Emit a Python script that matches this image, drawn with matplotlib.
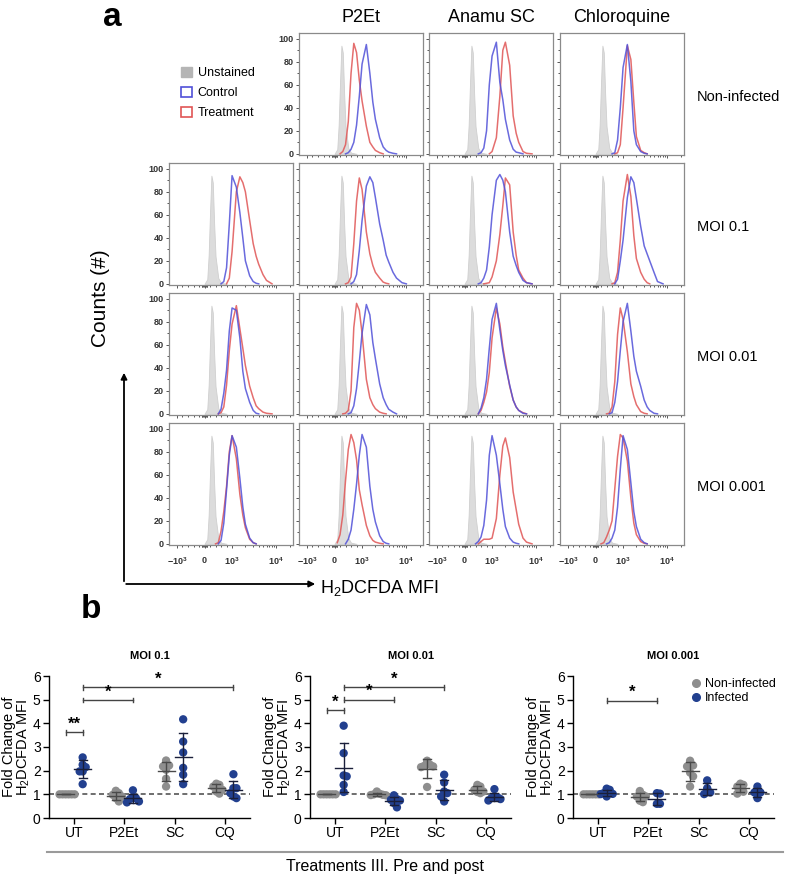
import numpy as np
import matplotlib
matplotlib.use('Agg')
import matplotlib.pyplot as plt
from matplotlib.patches import Patch, FancyArrowPatch
from matplotlib.lines import Line2D

plt.rcParams['font.family'] = ['Liberation Sans', 'DejaVu Sans']
plt.rcParams['mathtext.fontset'] = 'custom'
plt.rcParams['mathtext.rm'] = 'Liberation Sans'
plt.rcParams['mathtext.bf'] = 'Liberation Sans:bold'
plt.rcParams['mathtext.it'] = 'Liberation Sans:italic'

W, H = 788, 876

# ---------------- part a : H2DCFDA histograms ----------------
treatments = ['P2Et', 'Anamu SC', 'Chloroquine']
conditions = ['Non-infected', 'MOI 0.1', 'MOI 0.01', 'MOI 0.001']

# fluorescence grid (MFI) on which curve heights were read
MFI = [100, 200, 300, 400, 500, 600, 700, 800, 900, 1000, 1250, 1500,
       1750, 2000, 2500, 3000, 3500, 4000, 5000, 6000, 8000, 10000]
UNST_MFI = [0, 100, 150, 200, 250, 300, 350, 400, 500, 600, 800]
unstained = [0, 4, 25, 62, 94, 88, 52, 24, 5, 1, 0]

# Non-infected
ctl_ni_p2et = [0, 0, 0, 0, 1, 4, 10, 25, 50, 78, 95, 70, 45, 30, 14, 6, 3, 1.5, 0.5, 0, 0, 0]
trt_ni_p2et = [0, 0, 2, 8, 28, 70, 96, 88, 64, 46, 24, 10, 6, 3, 1, 0, 0, 0, 0, 0, 0, 0]
ctl_ni_sc = [0, 0, 0, 0, 0, 1, 5, 20, 60, 85, 97, 62, 47, 30, 12, 4, 1.5, 1, 0, 0, 0, 0]
trt_ni_sc = [0, 0, 0, 0, 0, 0, 0, 0, 0, 2, 14, 50, 90, 97, 77, 33, 18, 10, 2, 0.5, 0, 0]
ctl_ni_cq = [0, 0, 0, 0, 0, 0, 1, 12, 40, 75, 95, 63, 20, 8, 2, 0.5, 0, 0, 0, 0, 0, 0]
trt_ni_cq = [0, 0, 0, 0, 0, 0, 0, 1, 8, 40, 94, 82, 45, 15, 3, 1, 0, 0, 0, 0, 0, 0]
# MOI 0.1
ctl_m1_ut = [0, 0, 0, 0, 0, 0, 2, 14, 52, 94, 84, 62, 40, 20, 7, 2, 0.5, 0, 0, 0, 0, 0]
trt_m1_ut = [0, 0, 0, 0, 0, 0, 0, 0, 5, 28, 80, 93, 88, 80, 55, 35, 24, 17, 8, 3, 0, 0]
ctl_m1_p2et = [0, 0, 0, 0, 0, 0, 2, 8, 29, 55, 85, 93, 88, 75, 52, 38, 25, 19, 10, 5, 1, 0]
trt_m1_p2et = [0, 0, 0, 0, 1, 6, 35, 72, 92, 82, 45, 26, 16, 10, 5, 1.5, 0.5, 0, 0, 0, 0, 0]
ctl_m1_sc = [0, 0, 0, 0, 0, 1, 5, 12, 32, 60, 90, 95, 90, 80, 45, 24, 16, 10, 3, 1, 0, 0]
trt_m1_sc = [0, 0, 0, 0, 0, 0, 0, 0.5, 1, 6, 20, 43, 68, 92, 86, 45, 25, 12, 5, 1, 0, 0]
ctl_m1_cq = [0, 0, 0, 0, 0, 0, 0, 4, 20, 38, 75, 93, 88, 74, 50, 33, 26, 20, 10, 2, 0, 0]
trt_m1_cq = [0, 0, 0, 0, 0, 0, 1, 10, 38, 72, 95, 76, 42, 22, 10, 4, 1, 0, 0, 0, 0, 0]
# MOI 0.01
ctl_m01_ut = [0, 0, 0, 0, 0, 4, 18, 38, 72, 92, 90, 66, 37, 22, 10, 3, 0.5, 0, 0, 0, 0, 0]
trt_m01_ut = [0, 0, 0, 0, 0, 1, 6, 25, 55, 78, 94, 74, 57, 42, 24, 14, 7, 4.5, 1.5, 0.5, 0, 0]
ctl_m01_p2et = [0, 0, 0, 0, 0, 1, 7, 22, 45, 70, 95, 86, 62, 48, 26, 14, 8, 4, 1.5, 0, 0, 0]
trt_m01_p2et = [0, 0, 0, 0.5, 3, 20, 75, 96, 90, 70, 30, 14, 8, 4.5, 1.5, 0.5, 0, 0, 0, 0, 0, 0]
ctl_m01_sc = [0, 0, 0, 0, 0, 5, 14, 30, 57, 82, 96, 73, 55, 42, 25, 12, 6, 3, 0.5, 0, 0, 0]
trt_m01_sc = [0, 0, 0, 0, 0, 3, 10, 19, 36, 66, 92, 78, 58, 45, 24, 12, 6, 3, 1, 0, 0, 0]
ctl_m01_cq = [0, 0, 0, 0, 0, 1, 10, 28, 55, 80, 96, 72, 50, 37, 24, 12, 6, 3, 0.5, 0, 0, 0]
trt_m01_cq = [0, 0, 0, 0, 0.5, 6, 28, 69, 92, 82, 54, 26, 15, 8, 2, 0.5, 0, 0, 0, 0, 0, 0]
# MOI 0.001
ctl_m001_ut = [0, 0, 0, 0, 0, 3, 18, 47, 77, 94, 84, 57, 32, 17, 5, 1, 0, 0, 0, 0, 0, 0]
trt_m001_ut = [0, 0, 0, 0, 1, 11, 28, 50, 80, 94, 74, 43, 25, 14, 4, 1, 0, 0, 0, 0, 0, 0]
ctl_m001_p2et = [0, 0, 0, 0, 4, 12, 30, 52, 77, 95, 84, 50, 30, 19, 7, 2, 0.5, 0, 0, 0, 0, 0]
trt_m001_p2et = [1, 8, 25, 55, 82, 95, 88, 73, 47, 34, 16, 7, 3, 1.5, 0.5, 0, 0, 0, 0, 0, 0, 0]
ctl_m001_sc = [0, 0, 0, 0, 2, 6, 16, 38, 77, 94, 77, 52, 30, 15, 5, 1.5, 0.5, 0, 0, 0, 0, 0]
trt_m001_sc = [0, 0, 0, 0, 0, 2, 4, 4, 4, 5, 22, 60, 85, 92, 75, 45, 30, 17, 5, 1.5, 0, 0]
ctl_m001_cq = [0, 0, 0, 0, 1, 5, 12, 32, 65, 94, 82, 53, 28, 15, 4, 1, 0, 0, 0, 0, 0, 0]
trt_m001_cq = [0, 0, 1, 6, 12, 20, 48, 76, 95, 92, 72, 40, 18, 8, 2, 0.5, 0, 0, 0, 0, 0, 0]

# (row, column) -> (control, treatment); column 0 = untreated
panels = {
    (0, 1): (ctl_ni_p2et, trt_ni_p2et), (0, 2): (ctl_ni_sc, trt_ni_sc), (0, 3): (ctl_ni_cq, trt_ni_cq),
    (1, 0): (ctl_m1_ut, trt_m1_ut), (1, 1): (ctl_m1_p2et, trt_m1_p2et),
    (1, 2): (ctl_m1_sc, trt_m1_sc), (1, 3): (ctl_m1_cq, trt_m1_cq),
    (2, 0): (ctl_m01_ut, trt_m01_ut), (2, 1): (ctl_m01_p2et, trt_m01_p2et),
    (2, 2): (ctl_m01_sc, trt_m01_sc), (2, 3): (ctl_m01_cq, trt_m01_cq),
    (3, 0): (ctl_m001_ut, trt_m001_ut), (3, 1): (ctl_m001_p2et, trt_m001_p2et),
    (3, 2): (ctl_m001_sc, trt_m001_sc), (3, 3): (ctl_m001_cq, trt_m001_cq),
}

# ---------------- part b : fold change scatter ----------------
groups = ['UT', 'P2Et', 'SC', 'CQ']
titles_b = ['MOI 0.1', 'MOI 0.01', 'MOI 0.001']
noninf_moi1 = [[1.0, 1.0, 1.0, 1.0, 1.0, 1.0], [1.15, 1.05, 0.98, 0.91, 0.84, 0.70],
               [2.43, 2.22, 2.18, 2.04, 1.66, 1.33], [1.45, 1.40, 1.33, 1.19, 1.12, 1.03]]
inf_moi1 = [[2.56, 2.25, 2.15, 1.97, 1.97, 1.43], [1.17, 0.84, 0.84, 0.80, 0.70, 0.66],
            [4.17, 3.23, 2.77, 2.12, 1.83, 1.43], [1.85, 1.26, 1.26, 1.05, 0.91, 0.84]]
noninf_moi01 = [[1.0, 1.0, 1.0, 1.0, 1.0, 1.0], [1.12, 1.02, 1.00, 0.98, 0.97, 0.96],
                [2.42, 2.25, 2.20, 2.18, 2.15, 1.31], [1.40, 1.33, 1.19, 1.12, 1.10, 1.05]]
inf_moi01 = [[3.90, 2.74, 1.80, 1.76, 1.40, 1.10], [0.96, 0.80, 0.77, 0.74, 0.63, 0.45],
             [1.83, 1.50, 1.12, 1.05, 0.91, 0.70], [1.22, 0.91, 0.88, 0.84, 0.80, 0.74]]
noninf_moi001 = [[1.0, 1.0, 1.0, 1.0, 1.0, 1.0], [1.14, 0.98, 0.91, 0.91, 0.73, 0.67],
                 [2.42, 2.22, 2.18, 1.92, 1.76, 1.33], [1.45, 1.40, 1.33, 1.17, 1.11, 1.03]]
inf_moi001 = [[1.24, 1.19, 1.05, 1.02, 1.01, 0.91], [1.05, 1.03, 0.60, 0.60],
              [1.59, 1.26, 1.08, 1.01], [1.33, 1.08, 1.08, 0.84]]
# significance: (group a, series a, group b, series b, height, label)
sig_moi1 = [(0, 0, 0, 1, 3.62, '**'), (0, 1, 1, 1, 4.99, '*'), (0, 1, 3, 1, 5.52, '*')]
sig_moi01 = [(0, 0, 0, 1, 4.55, '*'), (0, 1, 1, 1, 5.0, '*'), (0, 1, 2, 1, 5.52, '*')]
sig_moi001 = [(0, 1, 1, 1, 4.96, '*')]

BLUE_H = '#5050d8'
RED_H = '#e05555'
GREY_PT = '#8e8e8e'
BLUE_PT = '#22408f'


def fx(x):
    return x / W


def fy(y):
    return 1 - y / H


def trim(y):
    y = np.asarray(y, float)
    nz = np.nonzero(y)[0]
    lo, hi = max(nz[0] - 1, 0), min(nz[-1] + 2, len(y))
    return slice(lo, hi)


fig = plt.figure(figsize=(W / 100, H / 100), dpi=100)

col_left = [169, 299, 429, 560]
row_top = [33, 163, 293, 423]
pw, ph = 124, 122

mfi = np.array(MFI, float)
for (r, c), (ctl, trt) in panels.items():
    ax = fig.add_axes([fx(col_left[c]), fy(row_top[r] + ph), pw / W, ph / H])
    ax.set_xscale('symlog', linthresh=1000, linscale=0.56)
    ax.fill_between(UNST_MFI, unstained, color='#dcdcdc', edgecolor='#cfcfcf', lw=0.6, zorder=1)
    s = trim(trt)
    ax.plot(mfi[s], np.asarray(trt, float)[s], color=RED_H, lw=1.1, alpha=0.85, zorder=2)
    s = trim(ctl)
    ax.plot(mfi[s], np.asarray(ctl, float)[s], color=BLUE_H, lw=1.1, alpha=0.85, zorder=3)
    ax.set_xlim(-1514, 23800)
    ax.set_ylim(-1, 105)
    ax.set_xticks([-1000, 0, 1000, 10000])
    ax.set_xticks([-800, -600, -400, -200, -100, -75, -50, -25, 25, 50, 75, 100,
                   200, 400, 600, 800, 2000, 3000, 4000, 5000, 6000, 7000, 8000, 9000, 20000],
                  minor=True)
    ax.set_yticks([0, 20, 40, 60, 80, 100])
    ax.set_yticks([10, 30, 50, 70, 90], minor=True)
    for sp in ax.spines.values():
        sp.set_color('#8a8a8a')
        sp.set_linewidth(0.9)
    ax.tick_params(which='both', direction='out', color='#555', width=0.7, length=2.2)
    ax.tick_params(which='minor', length=1.5)
    ax.tick_params(axis='x', pad=5)
    ax.tick_params(axis='y', pad=1.5)
    if r == 3:
        ax.set_xticklabels([r'$\mathbf{-10^3}$', r'$\mathbf{0}$', r'$\mathbf{10^3}$', r'$\mathbf{10^4}$'],
                           fontsize=6.5, color='#333')
    else:
        ax.set_xticklabels([])
    if c == 0 or (r == 0 and c == 1):
        ax.set_yticklabels(['0', '20', '40', '60', '80', '100'], fontsize=6.5,
                           fontweight='bold', color='#333')
    else:
        ax.set_yticklabels([])

for c, name in enumerate(treatments):
    fig.text(fx(col_left[c + 1] + pw / 2), fy(17), name, fontsize=13, ha='center', va='center')
for r, name in enumerate(conditions):
    fig.text(fx(697), fy(row_top[r] + ph / 2 + 3), name, fontsize=10.5, ha='left', va='center')

handles = [Patch(facecolor='#b5b5b5', edgecolor='#b5b5b5'),
           Patch(facecolor='white', edgecolor=BLUE_H, lw=1.2),
           Patch(facecolor='white', edgecolor=RED_H, lw=1.2)]
fig.legend(handles, ['Unstained', 'Control', 'Treatment'], loc='upper left',
           bbox_to_anchor=(fx(181), fy(67)), frameon=False, fontsize=9,
           handlelength=0.9, handleheight=0.9, handletextpad=0.45, labelspacing=0.6,
           borderpad=0, borderaxespad=0)

fig.text(fx(112), fy(18), 'a', fontsize=24, fontweight='bold', ha='center', va='center')
fig.text(fx(91), fy(610), 'b', fontsize=24, fontweight='bold', ha='center', va='center')

fig.add_artist(FancyArrowPatch((fx(124), fy(584)), (fx(124), fy(370)), transform=fig.transFigure,
                               arrowstyle='-|>', mutation_scale=9, lw=1.3, color='black'))
fig.add_artist(FancyArrowPatch((fx(123.4), fy(584)), (fx(318), fy(584)), transform=fig.transFigure,
                               arrowstyle='-|>', mutation_scale=9, lw=1.3, color='black'))
fig.text(fx(100), fy(298), 'Counts (#)', rotation=90, fontsize=15, ha='center', va='center')
fig.text(fx(320), fy(588), 'H$_2$DCFDA MFI', fontsize=13, ha='left', va='center')


# ---------------- part b drawing ----------------
def swarm(vals, step=0.06, dy=0.28):
    placed, xs = [], []
    for v in vals:
        for k in [0, 1, -1, 2, -2, 3, -3]:
            off = k * step
            if all(abs(off - p) >= step * 0.99 or abs(v - pv) >= dy for p, pv in placed):
                break
        placed.append((off, v))
        xs.append(off)
    return np.array(xs)


b_left = [49, 310, 573]
b_top, b_bot, bw = 676, 818, 201
series_sets = [(noninf_moi1, inf_moi1, sig_moi1), (noninf_moi01, inf_moi01, sig_moi01),
               (noninf_moi001, inf_moi001, sig_moi001)]
offs = [-0.17, 0.17]
cols = [GREY_PT, BLUE_PT]
bar_cols = ['#4a4a4a', '#1a1f3a']

for i, (ni, inf, sig) in enumerate(series_sets):
    ax = fig.add_axes([fx(b_left[i]), fy(b_bot), bw / W, (b_bot - b_top) / H])
    ax.axhline(1, ls=(0, (3, 2)), color='#555', lw=1.2, zorder=1)
    for k, data in enumerate([ni, inf]):
        for g, vals in enumerate(data):
            vals = np.array(vals, float)
            xc = g + offs[k]
            ax.scatter(xc + swarm(vals), vals, s=36, color=cols[k], edgecolor='none', zorder=3)
            m, sd = vals.mean(), vals.std(ddof=1)
            ax.plot([xc - 0.17, xc + 0.17], [m, m], color=bar_cols[k], lw=1.0, zorder=4)
            ax.plot([xc, xc], [m - sd, m + sd], color=bar_cols[k], lw=1.0, zorder=4)
            ax.plot([xc - 0.08, xc + 0.08], [m + sd, m + sd], color=bar_cols[k], lw=1.0, zorder=4)
            ax.plot([xc - 0.08, xc + 0.08], [m - sd, m - sd], color=bar_cols[k], lw=1.0, zorder=4)
    for ga, sa, gb, sb, yb, lab in sig:
        xa, xb = ga + offs[sa], gb + offs[sb]
        ax.plot([xa, xb], [yb, yb], color='#444', lw=1.0)
        ax.plot([xa, xa], [yb - 0.1, yb + 0.1], color='#444', lw=1.0)
        ax.plot([xb, xb], [yb - 0.1, yb + 0.1], color='#444', lw=1.0)
        ax.text((xa + xb) / 2, yb + 0.02, lab, ha='center', va='bottom', fontsize=12, fontweight='bold')
    ax.set_xlim(-0.5, 3.5)
    ax.set_ylim(0, 6)
    ax.set_xticks(range(4))
    ax.set_xticklabels(groups, fontsize=10)
    ax.set_yticks(range(7))
    ax.set_yticklabels([str(v) for v in range(7)], fontsize=10)
    for sp in ['top', 'right']:
        ax.spines[sp].set_visible(False)
    for sp in ['left', 'bottom']:
        ax.spines[sp].set_linewidth(1.0)
    ax.tick_params(direction='out', length=4, width=1.0, pad=2)
    ax.set_ylabel('Fold Change of\nH$_2$DCFDA MFI', fontsize=10.5, linespacing=1.0)
    ax.yaxis.set_label_coords(-0.085, 0.5)
    ax.set_title(titles_b[i], fontsize=8, fontweight='bold', pad=12)
    if i == 2:
        lh = [Line2D([], [], marker='o', ls='none', color=GREY_PT, markersize=5.5),
              Line2D([], [], marker='o', ls='none', color=BLUE_PT, markersize=5.5)]
        ax.legend(lh, ['Non-infected', 'Infected'], loc='upper right', frameon=False, fontsize=9,
                  handletextpad=0.1, labelspacing=0.2, borderaxespad=0.1, handlelength=1.2,
                  bbox_to_anchor=(1.04, 1.03))

fig.add_artist(Line2D([fx(47), fx(783)], [fy(852), fy(852)], color='#9a9a9a', lw=1.5))
fig.text(fx(385), fy(866), 'Treatments III. Pre and post', fontsize=11.5, ha='center', va='center')

fig.savefig('out.png', dpi=100)
